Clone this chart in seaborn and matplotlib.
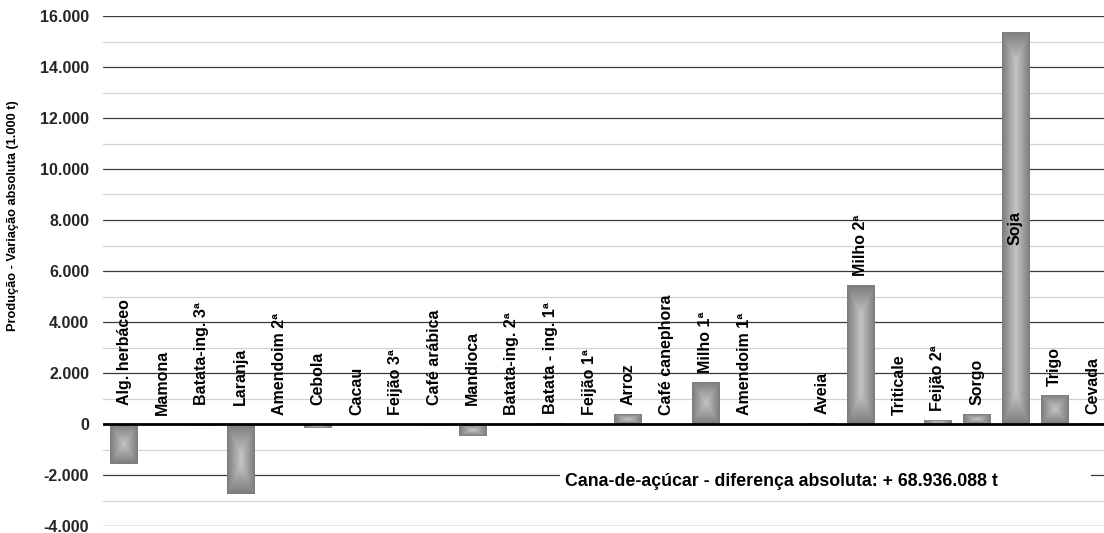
import numpy as np
import pandas as pd
import matplotlib
matplotlib.use("Agg")
import matplotlib.pyplot as plt
from matplotlib.colors import LinearSegmentedColormap
from matplotlib.patches import Rectangle
from matplotlib.ticker import MultipleLocator, FuncFormatter
import seaborn as sns

# ---- data (1.000 t) ----
categories = ["Alg. herbáceo", "Mamona", "Batata-ing. 3ª", "Laranja", "Amendoim 2ª",
              "Cebola", "Cacau", "Feijão 3ª", "Café arábica", "Mandioca",
              "Batata-ing. 2ª", "Batata - ing. 1ª", "Feijão 1ª", "Arroz", "Café canephora",
              "Milho 1ª", "Amendoim 1ª", "Cana-de-açúcar", "Aveia", "Milho 2ª",
              "Triticale", "Feijão 2ª", "Sorgo", "Soja", "Trigo", "Cevada"]
values = [-1560, 0, -90, -2740, 0,
          -150, 0, 0, -80, -470,
          0, 40, 0, 390, 0,
          1650, 0, np.nan, 50, 5450,
          0, 150, 390, 15380, 1140, 50]
y_ticks = [-4000, -2000, 0, 2000, 4000, 6000, 8000, 10000, 12000, 14000, 16000]
y_label = "Produção - Variação absoluta (1.000 t)"
cana_note = "Cana-de-açúcar - diferença absoluta: + 68.936.088 t"

df = pd.DataFrame({"cultura": categories, "variacao": values})

sns.set_theme(style="white")
plt.rcParams["font.family"] = ["Liberation Sans", "DejaVu Sans"]
plt.rcParams["font.weight"] = "bold"

W, H, DPI = 1104, 533, 100
fig = plt.figure(figsize=(W / DPI, H / DPI), dpi=DPI)
ax = fig.add_axes([103 / W, 7 / H, 1 - 103 / W, (526 - 16) / H])

sns.barplot(data=df, x="cultura", y="variacao", order=categories, color="#9a9a9a",
            width=0.70, errorbar=None, ax=ax, zorder=3, saturation=1)

slot_px = 38.76
x_left = -(124 - 103) / slot_px
x_right = (1104 - 124) / slot_px
ax.set_xlim(x_left, x_right)
ax.set_ylim(y_ticks[0], y_ticks[-1])

# grid
ax.grid(False)
for yv in np.arange(-4000, 16001, 1000):
    if yv == 0:
        continue
    if yv % 2000 == 0:
        ax.axhline(yv, color="#3a3a3a", lw=0.9, zorder=1)
    else:
        ax.axhline(yv, color="#d2d2d2", lw=0.9, zorder=1)
ax.axhline(0, color="black", lw=2.0, zorder=5)

for s in ax.spines.values():
    s.set_visible(False)
ax.set_xticks([])
ax.set_xlabel("")
ax.set_ylabel("")
ax.set_yticks(y_ticks)
ax.yaxis.set_major_formatter(FuncFormatter(lambda v, p: f"{int(v):,}".replace(",", ".")))
ax.tick_params(axis="y", which="both", length=0, pad=10, labelsize=11.5)
for lbl in ax.get_yticklabels():
    lbl.set_fontweight("bold")

# gradient fill on bars
cmap = LinearSegmentedColormap.from_list("g", ["#7b7b7b", "#c4c4c4"])
fig.canvas.draw()
for p in list(ax.patches):
    h = p.get_height()
    if h is None or np.isnan(h) or h == 0:
        continue
    p.set_edgecolor("none")
    bb = p.get_window_extent()
    wpx, hpx = max(int(round(bb.width)), 1), max(int(round(bb.height)), 1)
    yy, xx = np.mgrid[0:hpx, 0:wpx] + 0.5
    dx = np.minimum(xx, wpx - xx) / (wpx / 2)
    dy = np.minimum(yy, hpx - yy) / max(min(hpx / 2, 30), 1)
    t = np.clip(np.minimum(dx, dy), 0, 1)
    x0, y0 = p.get_x(), p.get_y()
    im = ax.imshow(t, extent=[x0, x0 + p.get_width(), min(y0, y0 + h), max(y0, y0 + h)],
                   cmap=cmap, vmin=0, vmax=1, aspect="auto", interpolation="bilinear",
                   zorder=3.5)
    im.set_clip_path(p)
ax.set_xlim(x_left, x_right)
ax.set_ylim(y_ticks[0], y_ticks[-1])

# category labels
for i, (cat, v) in enumerate(zip(categories, values)):
    if np.isnan(v):
        continue
    if v > 10000:
        ax.text(i, v / 2, cat, rotation=90, ha="center", va="center",
                fontsize=11.5, fontweight="bold", color="black", zorder=6)
    else:
        off = 19 if v < 0 else 9
        ax.annotate(cat, (i, max(v, 0)), xytext=(0, off * 72 / DPI), textcoords="offset points",
                    rotation=90, ha="center", va="bottom", fontsize=11.5,
                    fontweight="bold", color="black", zorder=6)

# sugar cane note box
ax.add_patch(Rectangle((11.25, -2850), 24.95 - 11.25, 1450, facecolor="white",
                       edgecolor="none", zorder=2))
ax.text(11.38, -2240, cana_note, ha="left", va="center", fontsize=12.8,
        fontweight="bold", color="black", zorder=6)

fig.text(13 / W, 1 - 216 / H, y_label, rotation=90, ha="center", va="center",
         fontsize=9.2, fontweight="bold", color="black")

fig.savefig("out.png", dpi=DPI, facecolor="white")
